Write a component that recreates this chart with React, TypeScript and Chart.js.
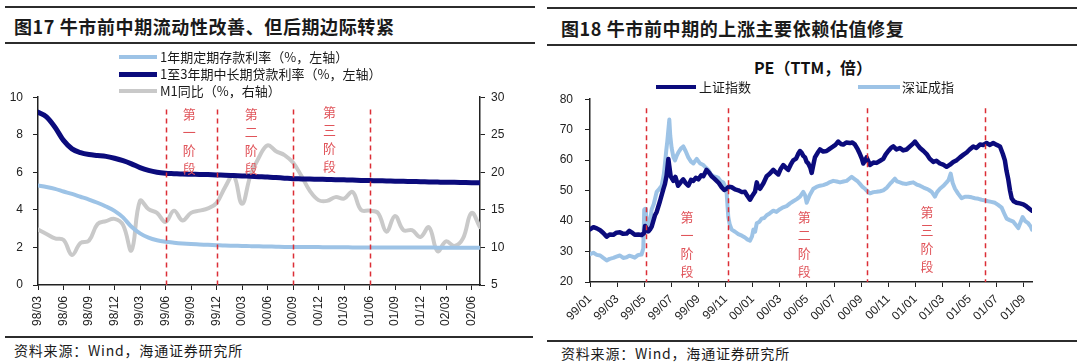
import React, { useEffect, useRef } from 'react';
import { Chart, registerables } from 'chart.js';
Chart.register(...registerables);

const FONT = '"Liberation Sans", Arial, sans-serif';
const CJK = '"Noto Sans CJK SC", "Liberation Sans", sans-serif';

const NAVY = '#0b0b7c';
const LIGHT = '#9dc3e6';
const GRAY = '#c9c9c9';
const RED = '#dc2e36';
const STAGE_RED = '#e0545a';

// ---------------- Figure 17 (monthly, index 0 = 98/03) ----------------
const leftTickLabels = ['98/03', '98/06', '98/09', '98/12', '99/03', '99/06', '99/09', '99/12', '00/03', '00/06', '00/09', '00/12', '01/03', '01/06', '01/09', '01/12', '02/03', '02/06'];
const leftTickIndex = [0, 3, 6, 9, 12, 15, 18, 21, 24, 27, 30, 33, 36, 39, 42, 45, 48, 51];

const depositRate = [5.30, 5.22, 5.12, 4.98, 4.85, 4.70, 4.55, 4.38, 4.18, 3.95, 3.60, 3.10, 2.75, 2.52, 2.38, 2.30, 2.25, 2.21, 2.18, 2.16, 2.14, 2.12, 2.10, 2.09, 2.08, 2.07, 2.06, 2.05, 2.04, 2.03, 2.03, 2.02, 2.02, 2.02, 2.01, 2.01, 2.01, 2.00, 2.00, 2.00, 2.00, 2.00, 2.00, 2.00, 2.00, 2.00, 2.00, 1.99, 1.99, 1.99, 1.98, 1.98, 1.98];
const loanRate = [9.20, 8.95, 8.40, 7.70, 7.25, 7.05, 6.95, 6.90, 6.85, 6.75, 6.62, 6.45, 6.25, 6.10, 6.00, 5.95, 5.93, 5.91, 5.90, 5.89, 5.88, 5.86, 5.85, 5.83, 5.81, 5.79, 5.77, 5.75, 5.72, 5.69, 5.66, 5.65, 5.64, 5.63, 5.62, 5.61, 5.60, 5.59, 5.57, 5.56, 5.55, 5.54, 5.53, 5.52, 5.51, 5.50, 5.49, 5.48, 5.47, 5.47, 5.46, 5.45, 5.45];
const m1Growth = [12.4, 11.8, 11.2, 11.0, 9.0, 10.6, 10.9, 13.1, 13.5, 13.8, 13.0, 9.6, 16.2, 15.1, 14.6, 13.4, 14.9, 13.6, 14.6, 14.9, 15.2, 15.9, 18.0, 19.6, 15.8, 19.6, 22.0, 23.6, 22.8, 22.3, 21.3, 19.5, 17.5, 16.3, 16.2, 16.7, 16.5, 17.4, 15.0, 14.9, 14.6, 12.1, 14.2, 12.3, 12.3, 11.4, 12.7, 9.5, 10.8, 10.2, 11.2, 14.6, 12.7];

const leftPhaseLines = [15, 21, 30, 39];
const leftStages = [
  { x: 17.8, y: 9.09, text: '第一阶段' },
  { x: 25.1, y: 9.09, text: '第二阶段' },
  { x: 34.3, y: 9.19, text: '第三阶段' },
];

// ---------------- Figure 18 (x = months since 99/01) ----------------
const rightTickLabels = ['99/01', '99/03', '99/05', '99/07', '99/09', '99/11', '00/01', '00/03', '00/05', '00/07', '00/09', '00/11', '01/01', '01/03', '01/05', '01/07', '01/09'];
const rightTickMonth = [0, 2, 4, 6, 8, 10, 12, 14, 16, 18, 20, 22, 24, 26, 28, 30, 32];
const rightPhaseLines = [4.1, 10.2, 20.4, 29.1];
const rightStages = [
  { x: 7.15, y: 41.4, text: '第一阶段' },
  { x: 15.8, y: 41.4, text: '第二阶段' },
  { x: 24.85, y: 42.9, text: '第三阶段' },
];

const shanghaiPE: [number, number][] = [
  [0, 37.3], [0.25, 38.0], [0.5, 37.6], [0.75, 37.0], [0.98, 36.1], [1.23, 34.9], [1.45, 35.6], [1.72, 35.5], [1.95, 36.2], [2.21, 36.3], [2.45, 35.8], [2.7, 35.9], [2.9, 36.8], [3.07, 36.3], [3.3, 35.5], [3.56, 35.6], [3.81, 35.4], [4.0, 36.1], [4.06, 38.4], [4.18, 37.5], [4.3, 36.6], [4.42, 37.2], [4.55, 38.2], [4.79, 41.9], [4.92, 43.0], [5.16, 46.5], [5.41, 50.5], [5.53, 52.2], [5.65, 55.0], [5.78, 60.4], [5.85, 58.0], [5.95, 54.7], [6.15, 53.2], [6.3, 54.5], [6.5, 51.6], [6.7, 52.8], [6.88, 53.7], [7.05, 52.5], [7.25, 51.6], [7.45, 53.5], [7.62, 53.2], [7.8, 54.2], [7.99, 53.7], [8.2, 55.0], [8.36, 54.7], [8.6, 56.8], [8.8, 55.8], [8.97, 54.7], [9.15, 54.0], [9.34, 53.2], [9.5, 52.5], [9.71, 51.1], [9.9, 50.2], [10.08, 50.6], [10.25, 51.3], [10.45, 51.1], [10.7, 50.4], [10.94, 50.1], [11.2, 49.5], [11.43, 49.6], [11.6, 48.3], [11.8, 47.0], [12.0, 48.5], [12.17, 49.6], [12.3, 52.7], [12.42, 51.0], [12.54, 50.6], [12.8, 52.5], [13.03, 54.7], [13.25, 55.5], [13.52, 56.8], [13.7, 56.0], [13.89, 55.3], [14.05, 57.0], [14.26, 58.4], [14.45, 57.5], [14.62, 56.8], [14.8, 58.5], [14.99, 59.9], [15.2, 60.5], [15.35, 62.0], [15.49, 63.0], [15.6, 62.5], [15.73, 61.4], [15.86, 60.9], [15.98, 59.4], [16.1, 58.9], [16.25, 57.5], [16.35, 55.8], [16.45, 58.0], [16.59, 60.9], [16.8, 62.5], [16.96, 63.5], [17.2, 62.8], [17.45, 63.0], [17.7, 63.8], [17.94, 64.5], [18.1, 65.0], [18.31, 66.1], [18.5, 65.3], [18.68, 65.1], [18.9, 65.8], [19.17, 65.6], [19.35, 65.8], [19.54, 65.1], [19.75, 63.5], [19.91, 62.0], [20.05, 60.5], [20.16, 58.9], [20.3, 60.0], [20.4, 60.9], [20.65, 58.4], [20.9, 59.2], [21.14, 59.1], [21.4, 59.8], [21.63, 60.4], [21.8, 61.8], [22.0, 63.0], [22.2, 64.0], [22.37, 64.5], [22.6, 63.5], [22.86, 64.0], [23.1, 63.2], [23.35, 63.5], [23.6, 64.5], [23.85, 65.5], [23.97, 66.1], [24.15, 65.0], [24.34, 64.0], [24.6, 63.0], [24.83, 62.0], [25.05, 60.5], [25.32, 59.4], [25.55, 59.8], [25.81, 58.9], [26.05, 58.5], [26.3, 57.8], [26.55, 58.5], [26.79, 59.4], [27.05, 60.0], [27.29, 60.9], [27.55, 61.8], [27.78, 62.5], [28.0, 63.5], [28.27, 64.5], [28.5, 64.0], [28.76, 65.1], [29.0, 65.0], [29.25, 65.6], [29.5, 65.0], [29.74, 65.6], [30.0, 65.0], [30.24, 64.5], [30.45, 62.0], [30.6, 59.9], [30.72, 56.5], [30.85, 53.7], [30.98, 50.0], [31.1, 47.5], [31.25, 46.5], [31.46, 46.0], [31.7, 45.8], [31.96, 45.5], [32.2, 44.8], [32.45, 43.9], [32.6, 43.4],
];

const shenzhenPE: [number, number][] = [
  [0, 29.1], [0.25, 29.6], [0.5, 28.9], [0.75, 28.7], [0.98, 27.9], [1.23, 27.1], [1.45, 27.6], [1.72, 27.9], [1.95, 28.3], [2.21, 28.7], [2.45, 27.9], [2.7, 28.1], [2.9, 28.6], [3.07, 28.4], [3.3, 28.0], [3.56, 28.9], [3.8, 29.0], [3.93, 31.0], [4.0, 43.8], [4.06, 44.0], [4.13, 42.3], [4.22, 39.0], [4.3, 38.2], [4.42, 39.7], [4.55, 43.9], [4.7, 45.5], [4.92, 49.6], [5.1, 50.5], [5.29, 51.6], [5.45, 55.5], [5.53, 58.9], [5.62, 63.0], [5.7, 66.1], [5.85, 73.3], [5.92, 68.0], [6.02, 64.0], [6.15, 61.0], [6.27, 59.9], [6.4, 61.5], [6.51, 62.5], [6.7, 63.8], [6.88, 64.5], [7.05, 63.0], [7.25, 60.9], [7.45, 59.5], [7.62, 58.9], [7.8, 60.0], [7.87, 60.4], [8.1, 59.0], [8.36, 58.4], [8.55, 57.5], [8.72, 56.8], [8.9, 55.5], [9.09, 54.7], [9.3, 54.5], [9.46, 54.2], [9.65, 53.0], [9.83, 52.7], [9.95, 51.5], [10.08, 49.1], [10.15, 44.5], [10.2, 41.3], [10.3, 39.0], [10.45, 37.2], [10.7, 36.5], [10.94, 35.7], [11.2, 35.2], [11.43, 34.6], [11.6, 34.0], [11.8, 33.6], [11.95, 35.0], [12.05, 37.2], [12.18, 36.5], [12.3, 39.3], [12.5, 39.8], [12.66, 40.8], [12.85, 41.0], [13.03, 41.9], [13.25, 42.5], [13.52, 43.4], [13.75, 43.0], [14.01, 43.9], [14.25, 44.5], [14.5, 44.9], [14.75, 45.8], [14.99, 46.5], [15.25, 47.2], [15.49, 48.0], [15.73, 49.6], [15.86, 48.5], [15.98, 46.0], [16.2, 48.5], [16.47, 50.6], [16.7, 51.2], [16.96, 51.6], [17.2, 51.8], [17.45, 52.2], [17.7, 52.8], [17.94, 53.2], [18.2, 53.0], [18.44, 52.7], [18.7, 53.0], [18.93, 53.2], [19.1, 53.8], [19.3, 54.5], [19.54, 53.7], [19.75, 53.0], [19.91, 52.2], [20.1, 51.2], [20.28, 50.6], [20.45, 49.8], [20.65, 49.1], [20.9, 49.5], [21.14, 49.6], [21.4, 49.8], [21.63, 50.1], [21.9, 51.0], [22.12, 52.2], [22.3, 53.0], [22.49, 53.9], [22.65, 53.0], [22.86, 52.7], [23.1, 52.3], [23.35, 52.2], [23.6, 52.5], [23.84, 52.7], [24.1, 52.0], [24.34, 51.6], [24.6, 51.0], [24.83, 50.6], [25.0, 50.2], [25.2, 49.6], [25.32, 48.8], [25.44, 48.0], [25.6, 49.5], [25.81, 50.6], [26.05, 51.5], [26.3, 52.7], [26.45, 53.5], [26.6, 55.6], [26.75, 52.5], [26.92, 50.6], [27.15, 49.0], [27.41, 47.5], [27.65, 48.0], [27.9, 48.0], [28.15, 47.8], [28.39, 47.5], [28.65, 47.3], [28.88, 47.0], [29.1, 46.8], [29.37, 46.5], [29.6, 46.3], [29.87, 46.0], [30.1, 45.3], [30.36, 44.4], [30.55, 42.5], [30.73, 40.8], [30.95, 40.3], [31.22, 39.8], [31.4, 38.8], [31.59, 37.7], [31.75, 39.5], [31.91, 41.3], [32.1, 40.0], [32.32, 39.3], [32.5, 38.2], [32.6, 37.2],
];

// ---------------- plugin: phase lines + stage labels ----------------
const phasePlugin = {
  id: 'phases',
  afterDatasetsDraw(chart: any, _args: any, opts: any) {
    const { ctx, chartArea, scales } = chart;
    const xs = scales.x;
    const ys = scales.y;
    ctx.save();
    ctx.strokeStyle = RED;
    ctx.lineWidth = 1.5;
    ctx.setLineDash([5, 4]);
    const top = ys.getPixelForValue(opts.top);
    for (const v of opts.lines) {
      const px = Math.round(xs.getPixelForValue(v)) + 0.5;
      ctx.beginPath();
      ctx.moveTo(px, top);
      ctx.lineTo(px, chartArea.bottom);
      ctx.stroke();
    }
    ctx.setLineDash([]);
    ctx.fillStyle = STAGE_RED;
    ctx.font = `13px ${CJK}`;
    ctx.textAlign = 'center';
    ctx.textBaseline = 'middle';
    for (const s of opts.stages) {
      const px = xs.getPixelForValue(s.x);
      const py = ys.getPixelForValue(s.y);
      Array.from(s.text as string).forEach((ch, i) => ctx.fillText(ch, px, py + i * 18));
    }
    ctx.restore();
  },
};

const axisCommon = {
  grid: { drawOnChartArea: false, drawTicks: true, tickLength: 5, color: '#222', lineWidth: 1 },
  border: { display: true, color: '#222', width: 1.5 },
};

function leftConfig(): any {
  const labelOf: Record<number, string> = {};
  leftTickIndex.forEach((v, i) => (labelOf[v] = leftTickLabels[i]));
  return {
    type: 'line',
    data: {
      datasets: [
        { label: '1至3年期中长期贷款利率（%，左轴）', data: loanRate.map((v, i) => ({ x: i, y: v })), borderColor: NAVY, borderWidth: 5, yAxisID: 'y', order: 1, cubicInterpolationMode: 'monotone' },
        { label: '1年期定期存款利率（%，左轴）', data: depositRate.map((v, i) => ({ x: i, y: v })), borderColor: LIGHT, borderWidth: 4, yAxisID: 'y', order: 2, cubicInterpolationMode: 'monotone' },
        { label: 'M1同比（%，右轴）', data: m1Growth.map((v, i) => ({ x: i, y: v })), borderColor: GRAY, borderWidth: 4, yAxisID: 'y1', order: 3, tension: 0.4 },
      ].map((d) => ({ ...d, pointRadius: 0, fill: false, borderCapStyle: 'round', borderJoinStyle: 'round' })),
    },
    options: {
      responsive: false,
      animation: false,
      devicePixelRatio: 1,
      layout: { padding: { top: 7, left: 0, right: 0, bottom: 0 } },
      plugins: {
        legend: { display: false },
        tooltip: { enabled: false },
        phases: { lines: leftPhaseLines, stages: leftStages, top: 9.34 },
      },
      scales: {
        x: {
          type: 'linear', min: 0, max: 52,
          afterBuildTicks: (s: any) => { s.ticks = leftTickIndex.map((v) => ({ value: v })); },
          afterFit: (s: any) => { s.height = 50; },
          ticks: { autoSkip: false, minRotation: 90, maxRotation: 90, padding: 6, color: '#222', font: { family: FONT, size: 12 }, callback: (v: number) => labelOf[v] ?? '' },
          ...axisCommon,
        },
        y: {
          position: 'left', min: 0, max: 10,
          afterFit: (s: any) => { s.width = 38; },
          ticks: { stepSize: 2, padding: 10, color: '#222', font: { family: FONT, size: 12 } },
          ...axisCommon,
        },
        y1: {
          position: 'right', min: 5, max: 30,
          afterFit: (s: any) => { s.width = 60; },
          ticks: { stepSize: 5, padding: 6, color: '#222', font: { family: FONT, size: 12 } },
          ...axisCommon,
        },
      },
    },
    plugins: [phasePlugin],
  };
}

function rightConfig(): any {
  const labelOf: Record<number, string> = {};
  rightTickMonth.forEach((v, i) => (labelOf[v] = rightTickLabels[i]));
  return {
    type: 'line',
    data: {
      datasets: [
        { label: '上证指数', data: shanghaiPE.map(([x, y]) => ({ x, y })), borderColor: NAVY, borderWidth: 4.5, order: 1 },
        { label: '深证成指', data: shenzhenPE.map(([x, y]) => ({ x, y })), borderColor: LIGHT, borderWidth: 4, order: 2 },
      ].map((d) => ({ ...d, pointRadius: 0, fill: false, tension: 0, borderJoinStyle: 'round', borderCapStyle: 'round' })),
    },
    options: {
      responsive: false,
      animation: false,
      devicePixelRatio: 1,
      layout: { padding: { top: 8, left: 0, right: 48, bottom: 0 } },
      plugins: {
        legend: { display: false },
        tooltip: { enabled: false },
        phases: { lines: rightPhaseLines, stages: rightStages, top: 77 },
      },
      scales: {
        x: {
          type: 'linear', min: 0, max: 32.6,
          afterBuildTicks: (s: any) => { s.ticks = rightTickMonth.map((v) => ({ value: v })); },
          afterFit: (s: any) => { s.height = 53; },
          ticks: { autoSkip: false, minRotation: 45, maxRotation: 45, padding: 5, color: '#222', font: { family: FONT, size: 12 }, callback: (v: number) => labelOf[v] ?? '' },
          ...axisCommon,
        },
        y: {
          position: 'left', min: 20, max: 80,
          afterFit: (s: any) => { s.width = 50; },
          ticks: { stepSize: 10, padding: 12, color: '#222', font: { family: FONT, size: 12 } },
          ...axisCommon,
        },
      },
    },
    plugins: [phasePlugin],
  };
}

function ChartCanvas({ make, left, top }: { make: () => any; left: number; top: number }) {
  const ref = useRef<HTMLCanvasElement | null>(null);
  useEffect(() => {
    if (!ref.current) return;
    const c = new Chart(ref.current, make());
    return () => c.destroy();
  }, []);
  return <canvas ref={ref} width={540} height={255} style={{ position: 'absolute', left, top, width: 540, height: 255 }} />;
}

const rule = (left: number, top: number, width: number) => (
  <div style={{ position: 'absolute', left, top, width, height: 2, background: '#2c2c2c' }} />
);

const text = (left: number, top: number, s: string, style: React.CSSProperties = {}) => (
  <div style={{ position: 'absolute', left, top, whiteSpace: 'nowrap', fontFamily: CJK, color: '#1a1a1a', ...style }}>{s}</div>
);

const legendLine = (left: number, cy: number, width: number, color: string, h: number) => (
  <div style={{ position: 'absolute', left, top: cy - h / 2, width, height: h, background: color }} />
);

export default function App() {
  return (
    <div style={{ position: 'fixed', left: 0, top: 0, width: 1080, height: 364, background: '#fff', overflow: 'hidden' }}>
      {/* Left panel */}
      {rule(5, 6, 530)}
      {text(14, 13, '图17 牛市前中期流动性改善、但后期边际转紧', { fontSize: 18, fontWeight: 700, lineHeight: '26px', letterSpacing: 0.6 })}
      {rule(5, 42, 530)}
      <ChartCanvas make={leftConfig} left={0} top={80} />
      {legendLine(119, 57, 38, LIGHT, 4)}
      {text(160, 48, '1年期定期存款利率（%，左轴）', { fontSize: 13, lineHeight: '18px' })}
      {legendLine(119, 74, 38, NAVY, 5)}
      {text(160, 65, '1至3年期中长期贷款利率（%，左轴）', { fontSize: 13, lineHeight: '18px' })}
      {legendLine(119, 91, 38, GRAY, 4)}
      {text(160, 82, 'M1同比（%，右轴）', { fontSize: 13, lineHeight: '18px' })}
      {rule(5, 336, 528)}
      {text(14, 341, '资料来源：Wind，海通证券研究所', { fontSize: 14, lineHeight: '18px', letterSpacing: 0.8 })}

      {/* Right panel */}
      {rule(547, 7, 530)}
      {text(561, 15, '图18 牛市前中期的上涨主要依赖估值修复', { fontSize: 18, fontWeight: 700, lineHeight: '26px', letterSpacing: 0.6 })}
      {rule(547, 44, 530)}
      <ChartCanvas make={rightConfig} left={540} top={80} />
      <div style={{ position: 'absolute', left: 713, top: 57, width: 200, textAlign: 'center', fontFamily: CJK, fontWeight: 700, fontSize: 16, lineHeight: '20px', color: '#111' }}>PE（TTM，倍）</div>
      {legendLine(656, 87, 40, NAVY, 4)}
      {text(699, 78, '上证指数', { fontSize: 13, lineHeight: '18px' })}
      {legendLine(858, 87, 42, LIGHT, 4)}
      {text(902, 78, '深证成指', { fontSize: 13, lineHeight: '18px' })}
      {rule(547, 340, 530)}
      {text(561, 344, '资料来源：Wind，海通证券研究所', { fontSize: 14, lineHeight: '18px', letterSpacing: 0.8 })}
    </div>
  );
}
